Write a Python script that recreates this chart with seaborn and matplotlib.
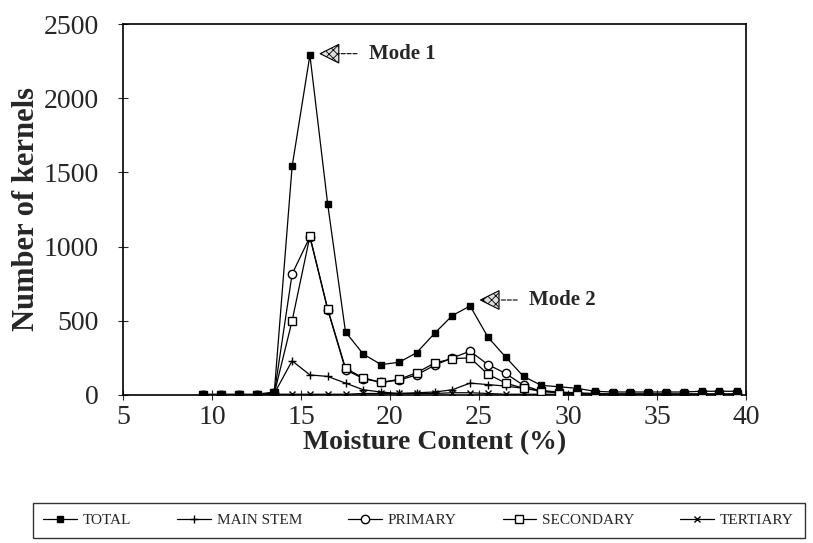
import pandas as pd
import matplotlib.pyplot as plt
import seaborn as sns
import numpy as np

# moisture content bins (bin centres, %)
moisture = [9.5, 10.5, 11.5, 12.5, 13.5, 14.5, 15.5, 16.5, 17.5, 18.5, 19.5,
            20.5, 21.5, 22.5, 23.5, 24.5, 25.5, 26.5, 27.5, 28.5, 29.5,
            30.5, 31.5, 32.5, 33.5, 34.5, 35.5, 36.5, 37.5, 38.5, 39.5]
total = [5, 5, 5, 5, 20, 1540, 2290, 1285, 425, 275, 205,
         220, 285, 415, 535, 600, 390, 255, 125, 65, 55,
         45, 25, 20, 20, 20, 20, 20, 25, 25, 25]
main_stem = [0, 0, 0, 0, 10, 230, 135, 125, 80, 35, 20,
             10, 15, 20, 35, 80, 70, 60, 45, 30, 20,
             15, 10, 5, 5, 5, 5, 5, 5, 5, 5]
primary = [0, 0, 0, 0, 10, 815, 1065, 575, 170, 110, 85,
           100, 135, 200, 250, 295, 205, 145, 65, 25, 15,
           10, 5, 5, 5, 5, 5, 5, 5, 5, 5]
secondary = [0, 0, 0, 0, 10, 500, 1070, 580, 180, 115, 85,
             105, 150, 215, 245, 250, 140, 80, 45, 25, 15,
             10, 5, 5, 5, 5, 5, 5, 5, 5, 5]
tertiary = [0, 0, 0, 0, 5, 5, 5, 5, 5, 10, 10,
            10, 10, 10, 15, 15, 10, 5, 5, 5, 5,
            5, 5, 5, 5, 5, 5, 5, 5, 5, 5]

df = pd.DataFrame({'mc': moisture, 'TOTAL': total, 'MAIN STEM': main_stem,
                   'PRIMARY': primary, 'SECONDARY': secondary, 'TERTIARY': tertiary})

sns.set_style('ticks')
plt.rcParams['font.family'] = ['Liberation Serif', 'DejaVu Serif']
plt.rcParams['hatch.linewidth'] = 0.6

fig = plt.figure(figsize=(8.13, 5.43), dpi=100)
ax = fig.add_axes([0.1513, 0.2726, 0.7663, 0.6832])

# series styles: marker, size, face colour, zorder
styles = {
    'TOTAL': ('s', 5, 'black', 6),
    'MAIN STEM': ('+', 6, 'black', 3),
    'PRIMARY': ('o', 6, 'white', 4),
    'SECONDARY': ('s', 6, 'white', 5),
    'TERTIARY': ('x', 5, 'black', 2),
}
for name, (m, ms, fc, z) in styles.items():
    sns.lineplot(data=df, x='mc', y=name, ax=ax, color='black', lw=0.9,
                 marker=m, markersize=ms, markerfacecolor=fc,
                 markeredgecolor='black', markeredgewidth=1.0,
                 label=name, zorder=z)

ax.set_xlim(5, 40)
ax.set_ylim(0, 2500)
ax.set_xticks(np.arange(5, 41, 5))
ax.set_yticks(np.arange(0, 2501, 500))
ax.tick_params(axis='both', labelsize=20, direction='inout', length=7, width=0.8)
ax.tick_params(axis='y', pad=14)
ax.set_xlabel('Moisture Content (%)', fontsize=20, fontweight='bold', labelpad=0)
ax.set_ylabel('Number of kernels', fontsize=22, fontweight='bold', labelpad=2)
for s in ax.spines.values():
    s.set_linewidth(1.2)
    s.set_color('black')

# mode pointers
modes = [('Mode 1', 6), ('Mode 2', 15)]
for text, i in modes:
    tx = moisture[i] + 1.1
    ty = total[i] + (10 if i == 6 else 40)
    ax.scatter([tx], [ty], marker='<', s=180, facecolor='#dddddd',
               edgecolor='black', linewidth=0.8, hatch='xxxx', zorder=8, clip_on=False)
    ax.annotate(text, xy=(tx + 0.45, ty), xytext=(tx + 2.2, ty),
                fontsize=15, fontweight='bold', va='center', ha='left',
                arrowprops=dict(arrowstyle='-', linestyle='--', color='black',
                                lw=0.8, shrinkA=6, shrinkB=0))

handles, labels = ax.get_legend_handles_labels()
ax.get_legend().remove()
leg = fig.legend(handles, labels, loc='upper left', bbox_to_anchor=(0.040, 1 - 503 / 543),
                 ncol=5, fontsize=11, frameon=True, fancybox=False,
                 edgecolor='black', handlelength=2.2, columnspacing=3.0,
                 handletextpad=0.4, borderpad=0.7, borderaxespad=0)
leg.get_frame().set_linewidth(1.0)

plt.savefig('out.png', dpi=100)
